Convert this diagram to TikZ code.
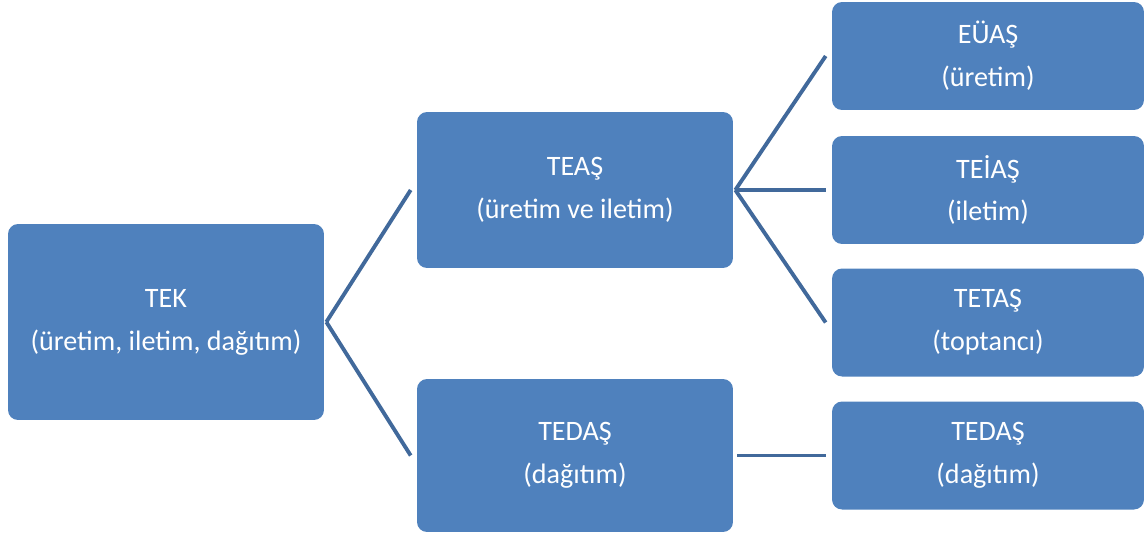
\documentclass[tikz,border=0pt]{standalone}
\usepackage{fontspec}
\setmainfont{Carlito}
\usetikzlibrary{calc}
\definecolor{boxfill}{HTML}{4F81BD}
\definecolor{link}{HTML}{41699B}
\tikzset{
  unit/.style={fill=boxfill,rounded corners=0.2cm,align=center,text=white,
               font=\fontsize{16pt}{24.4pt}\selectfont,inner sep=0pt},
  big/.style={unit,minimum width=6.32cm,minimum height=3.12cm},
  small/.style={unit,minimum width=6.24cm,minimum height=2.16cm},
  tie/.style={draw=link,line width=2.2pt},
}

\begin{document}
\begin{tikzpicture}[x=0.02cm,y=-0.02cm]
\useasboundingbox (0,0) rectangle (1145,535);
% first level
\node[unit,minimum width=6.32cm,minimum height=3.92cm] (tek) at (166,322) {TEK\\(üretim, iletim, dağıtım)};
% second level
\node[big] (teas) at (575,190) {TEAŞ\\(üretim ve iletim)};
\node[big,minimum height=3.06cm] (tedas) at (575,455.5) {TEDAŞ\\(dağıtım)};
% third level
\node[small] (euas) at (988,56) {EÜAŞ\\(üretim)};
\node[small] (teias) at (988,190) {TEİAŞ\\(iletim)};
\node[small] (tetas) at (988,322.5) {TETAŞ\\(toptancı)};
\node[small] (tedasb) at (988,455.5) {TEDAŞ\\(dağıtım)};
% connectors
\draw[tie] ($(tek.east)+(2,0)$) -- ($(teas.west)+(-6,0)$);
\draw[tie] ($(tek.east)+(2,0)$) -- ($(tedas.west)+(-6,0)$);
\draw[tie] ($(teas.east)+(2,0)$) -- ($(euas.west)+(-6,0)$);
\draw[tie] ($(teas.east)+(2,0)$) -- ($(teias.west)+(-6,0)$);
\draw[tie] ($(teas.east)+(2,0)$) -- ($(tetas.west)+(-6,0)$);
\draw[tie] ($(tedas.east)+(4,0)$) -- ($(tedasb.west)+(-6,0)$);
\end{tikzpicture}
\end{document}
